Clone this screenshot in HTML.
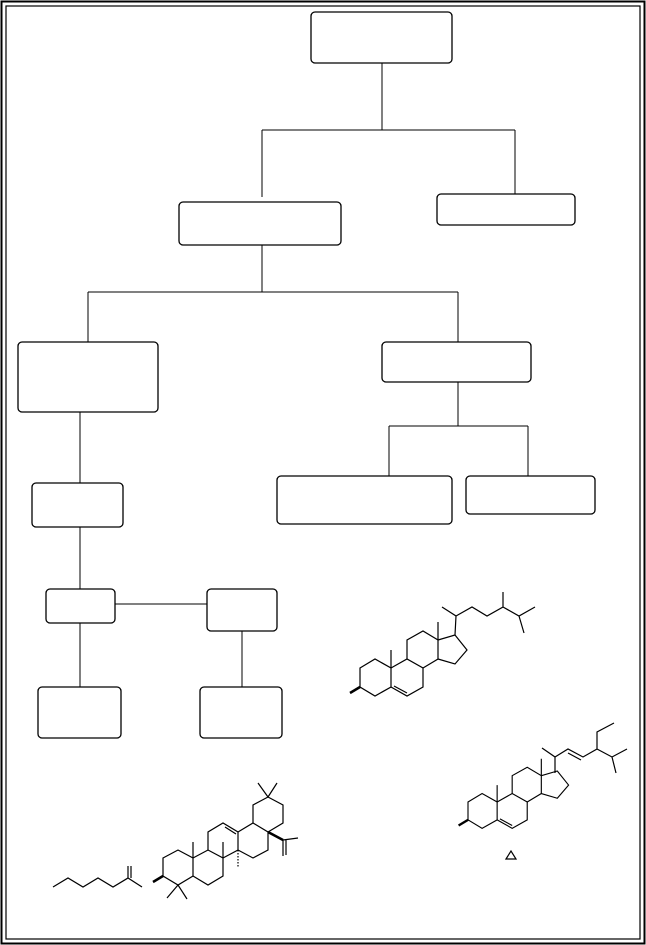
<!DOCTYPE html>
<html><head><style>body{margin:0;background:#fff}svg{display:block}</style></head><body>
<svg width="646" height="945" xmlns="http://www.w3.org/2000/svg" font-family="Liberation Sans, sans-serif">
<rect x="1.5" y="1.5" width="643" height="942" fill="none" stroke="#000" stroke-width="2"/>
<rect x="6" y="6" width="634" height="933" fill="none" stroke="#000" stroke-width="1.2"/>
<g fill="none" stroke="#000" stroke-width="1.3">
<rect x="311" y="12" width="141" height="51" rx="4"/>
<rect x="437" y="194" width="138" height="31" rx="4"/>
<rect x="179" y="202" width="162" height="43" rx="4"/>
<rect x="18" y="342" width="140" height="70" rx="4"/>
<rect x="382" y="342" width="149" height="40" rx="4"/>
<rect x="277" y="476" width="175" height="48" rx="4"/>
<rect x="466" y="476" width="129" height="38" rx="4"/>
<rect x="32" y="483" width="91" height="44" rx="4"/>
<rect x="46" y="589" width="69" height="34" rx="4"/>
<rect x="207" y="589" width="70" height="42" rx="4"/>
<rect x="38" y="687" width="83" height="51" rx="4"/>
<rect x="200" y="687" width="82" height="51" rx="4"/>
</g>
<g fill="none" stroke="#000" stroke-width="1">
<path d="M382 63V130M262 130H515M262 130V197M515 130V194M262 245V292M88 292H458M88 292V342M458 292V342M458 382V426M389 426H528M389 426V476M528 426V476M80 412V483M80 527V589M115 604H207M80 623V687M242 631V687"/>
</g>
<g id="core" fill="none" stroke="#000" stroke-width="1.2">
<path d="M360 668L375 659L391 668L391 687L375 696L360 687Z"/>
<path d="M391 668L407 659L423 668L423 687L407 696L391 687"/>
<path d="M407 659L407 640L423 631L438 640L438 659L423 668"/>
<path d="M438 640L455 635L467 650L455 664L438 659"/>
<path d="M391 668V650M438 640V622M394 686L407 693"/>
<path d="M360 687L350 693" stroke-width="2.5"/>
</g>
<g fill="none" stroke="#000" stroke-width="1.2">
<path d="M455 635L456 616L442 607M456 616L472 607L487 616L503 607L503 592M503 607L519 616L535 607M519 616L524 633"/>
</g>
<use href="#core" transform="translate(468 802) scale(0.94) translate(-360 -668)"/>
<g fill="none" stroke="#000" stroke-width="1.2">
<path d="M555 773L555 757L542 748M555 757L568 749L583 757L597 749L597 732L614 723M597 749L612 757L627 749M612 757L616 773M568 753L581 760"/>
<path d="M506 859L511 851L516 859Z"/>
<path d="M163 858L178 850L193 858L193 876L178 885L163 876Z"/>
<path d="M193 858L208 850L223 858L223 876L208 885L193 876"/>
<path d="M208 850L208 832L223 823L238 832L238 850L223 858"/>
<path d="M238 832L253 823L268 832L268 850L253 858L238 850"/>
<path d="M253 823L253 805L268 797L283 805L283 823L268 832"/>
<path d="M225 827L236 834M193 858V842M223 858V842M178 885L167 898M178 885L187 899M268 797L258 783M268 797L277 783M283 840L298 838M283 840V856M286 840V855"/>
<path d="M238 850V867" stroke-dasharray="1.5 1.5"/>
<path d="M163 876L153 882M268 832L283 840" stroke-width="2.5"/>
<path d="M53 887L68 878L83 887L98 878L113 887L128 878L142 887M128 878V866M131 878V866"/>
</g>
</svg>
</body></html>
